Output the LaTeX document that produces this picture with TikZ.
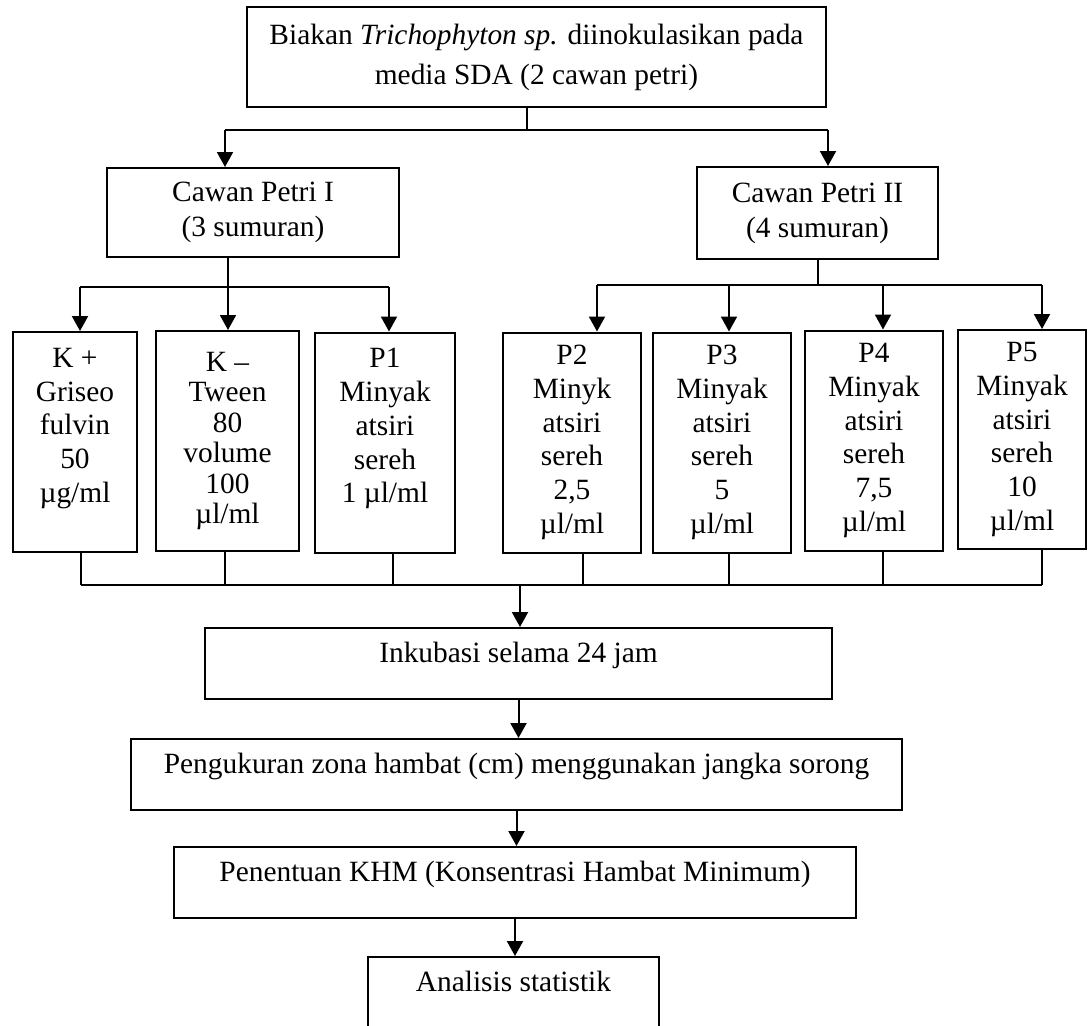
\documentclass[tikz,border=0pt]{standalone}
\usepackage{fontspec}
\setmainfont{Liberation Serif}
\usetikzlibrary{arrows.meta}

\begin{document}
\begin{tikzpicture}[x=0.5pt, y=-0.5pt, >={Triangle[length=7.5pt, width=8pt]},
    every node/.style={draw, rectangle, line width=1pt, inner sep=0pt, align=center},
    bigbox/.style={font=\fontsize{14.7}{20}\selectfont},
    petribox/.style={font=\fontsize{14.7}{17.5}\selectfont},
    wellbox/.style={minimum height=110pt, font=\fontsize{14.7}{16.85}\selectfont},
    stagebox/.style={text height=17.25pt, text depth=18.25pt, anchor=north, font=\fontsize{14.7}{16}\selectfont},
    link/.style={line width=0.65pt},
    arrow/.style={->, line width=1pt}]

    \useasboundingbox (0,0) rectangle (1089,1025);

    % Top box and the two petri dishes
    \node[bigbox, minimum width=289.5pt, minimum height=50pt] (biakan) at (536.5,57)
        {Biakan \textit{Trichophyton sp.} diinokulasikan pada\\media SDA (2 cawan petri)};
    \node[petribox, minimum width=146pt, minimum height=44.5pt] (petriI) at (253,212.5)
        {Cawan Petri I\\(3 sumuran)};
    \node[petribox, minimum width=120.5pt, minimum height=46pt] (petriII) at (817.5,213)
        {Cawan Petri II\\(4 sumuran)};

    % Wells of petri dish I
    \node[wellbox, minimum width=62pt] (kplus) at (75,442)
        {K +\\Griseo\\fulvin\\50\\µg/ml\\ \mbox{}};
    \node[wellbox, minimum width=71.5pt, font=\fontsize{14.7}{15.2}\selectfont] (kmin) at (227.5,441)
        {K –\\Tween\\80\\volume\\100\\µl/ml};
    \node[wellbox, minimum width=70pt] (pI) at (385,442.5)
        {P1\\Minyak\\atsiri\\sereh\\1 µl/ml\\ \mbox{}};

    % Wells of petri dish II
    \node[wellbox, minimum width=69pt] (pII) at (572,442.5)
        {P2\\Minyk\\atsiri\\sereh\\2,5\\µl/ml};
    \node[wellbox, minimum width=69pt] (pIII) at (722,442.5)
        {P3\\Minyak\\atsiri\\sereh\\5\\µl/ml};
    \node[wellbox, minimum width=69pt] (pIV) at (874,440.5)
        {P4\\Minyak\\atsiri\\sereh\\7,5\\µl/ml};
    \node[wellbox, minimum width=64pt, minimum height=109.5pt] (pV) at (1022,439.5)
        {P5\\Minyak\\atsiri\\sereh\\10\\µl/ml};

    % Lower chain
    \node[stagebox, minimum width=313.5pt] (inkubasi) at (518.5,627) {Inkubasi selama 24 jam};
    \node[stagebox, minimum width=385.5pt] (zona) at (516.5,738)
        {Pengukuran zona hambat (cm) menggunakan jangka sorong};
    \node[stagebox, minimum width=341pt] (khm) at (515,846)
        {Penentuan KHM (Konsentrasi Hambat Minimum)};
    \node[stagebox, minimum width=145.5pt] (analisis) at (513.5,956) {Analisis statistik};

    % Split to the petri dishes
    \coordinate (topmid) at (527,130);
    \coordinate (topL) at (225,130);
    \coordinate (topR) at (828,130);
    \draw[link] (topmid |- biakan.south) -- (topmid);
    \draw[link] (topL) -- (topR);
    \draw[arrow] (topL) -- (topL |- petriI.north);
    \draw[arrow] (topR) -- (topR |- petriII.north);

    % Split to the wells of dish I
    \coordinate (splitI) at (228,287);
    \draw[link] (splitI |- petriI.south) -- (splitI);
    \foreach \n/\x in {kplus/80, kmin/228, pI/389}{
        \coordinate (in-\n) at (\x,287);
        \draw[arrow] (in-\n) -- (in-\n |- \n.north);
    }
    \draw[link] (in-kplus) -- (in-pI);

    % Split to the wells of dish II
    \coordinate (splitII) at (818,285);
    \draw[link] (splitII |- petriII.south) -- (splitII);
    \foreach \n/\x in {pII/597, pIII/729, pIV/883, pV/1042}{
        \coordinate (in-\n) at (\x,285);
        \draw[arrow] (in-\n) -- (in-\n |- \n.north);
    }
    \draw[link] (in-pII) -- (in-pV);

    % Collect all wells
    \foreach \n/\x in {kplus/81, kmin/225, pI/393, pII/583, pIII/729, pIV/883, pV/1042}{
        \coordinate (out-\n) at (\x,585);
        \draw[link] (out-\n |- \n.south) -- (out-\n);
    }
    \draw[link] (out-kplus) -- (out-pV);
    \coordinate (collect) at (520,585);
    \draw[arrow] (collect) -- (collect |- inkubasi.north);

    \draw[arrow] (inkubasi.south) -- (inkubasi.south |- zona.north);
    \draw[arrow] (zona.south) -- (zona.south |- khm.north);
    \draw[arrow] (khm.south) -- (khm.south |- analisis.north);

\end{tikzpicture}
\end{document}
